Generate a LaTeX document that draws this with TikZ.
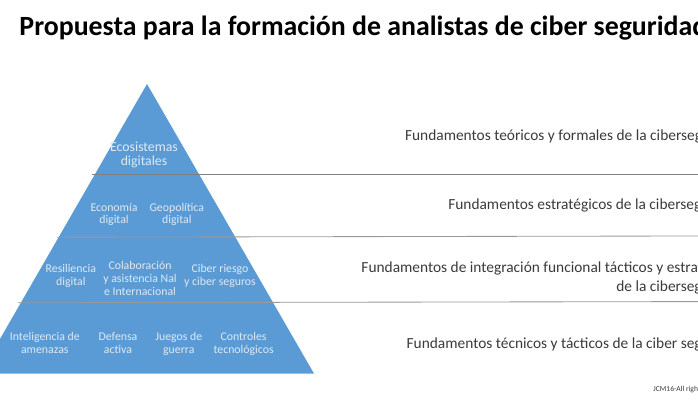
\documentclass[tikz,border=0pt]{standalone}
\usepackage{fontspec}
\setmainfont{Carlito}
\definecolor{pyramidblue}{HTML}{5B9BD5}
\definecolor{pyramidtext}{HTML}{DCE9F5}
\definecolor{labeltext}{HTML}{3A3A3A}
\tikzset{
  brick/.style={text=pyramidtext, font=\fontsize{8.4}{9.1}\selectfont, align=center, inner sep=0pt},
  basis/.style={text=labeltext, font=\fontsize{10.95}{13.4}\selectfont, align=left, anchor=west, inner sep=0pt},
  divider/.style={draw=black!50, line width=0.6pt}
}
\begin{document}
\begin{tikzpicture}
        \useasboundingbox (0.0, 0.0) rectangle (17.45, 10.0);
        \clip (0.0, 0.0) rectangle (17.45, 10.0);

        \fill [pyramidblue] (3.675, 7.9) -- (7.85, 0.66) -- (-0.5, 0.66) -- cycle;

        \coordinate (split1a) at (2.3, 5.64);
        \coordinate (split1b) at (17.45, 5.64);
        \coordinate (split2a) at (1.42, 4.07);
        \coordinate (split2b) at (17.45, 4.1);
        \coordinate (split3a) at (0.45, 2.43);
        \coordinate (split3b) at (17.45, 2.46);
        \draw [divider] (split1a) -- (split1b);
        \draw [divider, draw=black!40] (split2a) -- (split2b);
        \draw [divider, draw=black!40] (split3a) -- (split3b);

        \node (title) [anchor=west, inner sep=0pt, font=\fontsize{19.8}{21}\selectfont\bfseries] at (0.48, 9.3) {Propuesta para la formación de analistas de ciber seguridad};

        \node (ecosystems) [brick, font=\fontsize{9.8}{10.2}\selectfont] at (3.6, 6.13) {Ecosistemas\\digitales};
        \node (economy) [brick] at (2.85, 4.64) {Economía\\digital};
        \node (geopolitics) [brick] at (4.42, 4.64) {Geopolítica\\digital};
        \node (resilience) [brick] at (1.77, 3.1) {Resiliencia\\digital};
        \node (collaboration) [brick] at (3.5, 3.04) {Colaboración\\y asistencia Nal\\e Internacional};
        \node (risk) [brick] at (5.5, 3.11) {Ciber riesgo\\y ciber seguros};
        \node (intelligence) [brick] at (1.12, 1.42) {Inteligencia de\\amenazas};
        \node (defense) [brick] at (2.95, 1.42) {Defensa\\activa};
        \node (wargames) [brick] at (4.47, 1.41) {Juegos de\\guerra};
        \node (controls) [brick] at (6.09, 1.4) {Controles\\tecnológicos};

        \node (theory) [basis] at (10.12, 6.6) {Fundamentos teóricos y formales de la ciberseguridad};
        \node (strategy) [basis] at (11.2, 4.87) {Fundamentos estratégicos de la ciberseguridad};
        \node (integration) [basis] at (9.03, 3.05) {Fundamentos de integración funcional tácticos y estratégicos\\\hspace*{6.37cm}de la ciberseguridad};
        \node (tactics) [basis] at (10.16, 1.4) {Fundamentos técnicos y tácticos de la ciber seguridad};

        \node (mark) [anchor=west, inner sep=0pt, text=labeltext, font=\fontsize{5.4}{6}\selectfont] at (16.33, 0.27) {JCM16-All rights reserved};
      \end{tikzpicture}
\end{document}
